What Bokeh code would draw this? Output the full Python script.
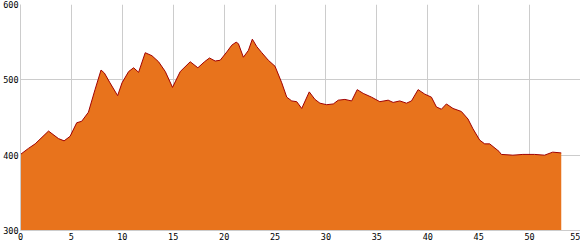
from bokeh.plotting import figure
from bokeh.models import ColumnDataSource, FixedTicker, Range1d
from bokeh.embed import file_html
from bokeh.resources import INLINE

distance = [0.0, 0.78, 1.44, 2.75, 3.73, 4.28, 4.87, 5.52, 6.01, 6.67, 7.32, 7.91,
            8.24, 8.79, 9.54, 9.97, 10.62, 11.11, 11.60, 12.25, 12.91, 13.56, 14.22,
            14.93, 15.69, 16.67, 17.42, 18.07, 18.56, 19.12, 19.61, 20.26, 20.75,
            21.18, 21.40, 21.89, 22.38, 22.77, 23.21, 23.70, 24.34, 25.00, 25.66,
            26.15, 26.64, 27.13, 27.62, 28.36, 28.92, 29.41, 30.07, 30.72, 31.21,
            31.86, 32.52, 33.07, 33.66, 34.48, 35.29, 36.11, 36.60, 37.25, 37.91,
            38.40, 39.05, 39.71, 40.36, 40.85, 41.34, 41.83, 42.48, 43.30, 43.95,
            44.44, 45.10, 45.59, 46.08, 47.00, 47.22, 48.36, 49.34, 50.49, 51.47,
            52.27, 53.11]
elevation = [401, 409, 415, 432, 422, 419, 425, 443, 445, 457, 487, 513,
             509, 496, 479, 496, 511, 516, 510, 536, 532, 524, 511,
             490, 511, 524, 516, 524, 529, 525, 526, 537, 546,
             550, 548, 530, 539, 554, 544, 536, 526, 518, 496,
             477, 472, 471, 462, 484, 474, 469, 467, 468, 473,
             474, 472, 487, 482, 477, 471, 473, 470, 472, 469,
             472, 487, 481, 477, 464, 461, 468, 462, 458, 448,
             435, 420, 415, 415, 405, 401, 400, 401, 401, 400,
             404, 403]
x_ticks = [0, 5, 10, 15, 20, 25, 30, 35, 40, 45, 50, 55]
y_ticks = [300, 400, 500, 600]

src = ColumnDataSource(dict(x=distance, y=elevation))

p = figure(width=580, height=250, output_backend="svg", toolbar_location=None,
           x_range=Range1d(0, 55), y_range=Range1d(300, 600),
           min_border_left=0, min_border_right=0, min_border_top=4,
           min_border_bottom=20, background_fill_color="white",
           border_fill_color="white")
p.outline_line_color = None

p.varea(x="x", y1=300, y2="y", source=src, fill_color="#E8731C")
p.line(x="x", y="y", source=src, line_color="#A00000", line_width=1)

for ax, ticks in ((p.xaxis[0], x_ticks), (p.yaxis[0], y_ticks)):
    ax.ticker = FixedTicker(ticks=ticks)
    ax.axis_line_color = "#cccccc"
    ax.major_tick_line_color = None
    ax.minor_tick_line_color = None
    ax.major_tick_out = 0
    ax.major_tick_in = 0
    ax.minor_tick_out = 0
    ax.minor_tick_in = 0
    ax.major_label_text_font = "DejaVu Sans Mono"
    ax.major_label_text_font_size = "8.5px"
    ax.major_label_text_color = "black"
p.xaxis.major_label_standoff = 2
p.yaxis.major_label_standoff = 2

p.xgrid.ticker = FixedTicker(ticks=x_ticks)
p.ygrid.ticker = FixedTicker(ticks=y_ticks)
p.grid.grid_line_color = "#cccccc"
p.grid.grid_line_width = 1
p.grid.level = "underlay"

open("out.html", "w").write(file_html(p, INLINE))
